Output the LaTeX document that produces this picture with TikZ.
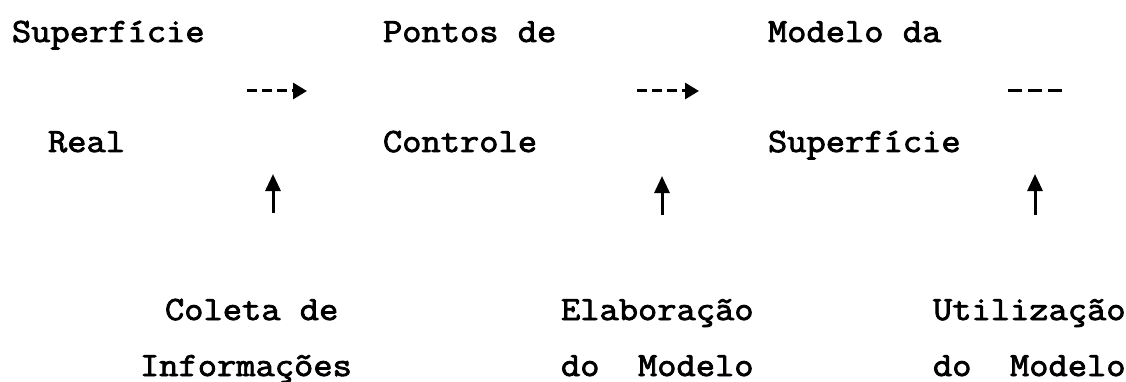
\documentclass[tikz,border=0pt]{standalone}
\usepackage{fontspec}
\newfontfamily\typew{Latin Modern Mono}[FakeStretch=1.1,FakeBold=2.4]
\usetikzlibrary{arrows.meta}
\tikzset{
  lbl/.style={anchor=base west, inner sep=0pt, outer sep=0pt,
    font=\fontsize{34}{40}\typew},
  flow/.style={line width=3pt, dash pattern=on 10pt off 5pt,
    -{Triangle[length=14pt,width=16pt]}},
  flowend/.style={line width=3pt, dash pattern=on 14pt off 6pt},
  upar/.style={line width=3pt, -{Triangle[length=17pt,width=15pt]}}
}
\begin{document}
\begin{tikzpicture}[x=1pt,y=-1pt]
\useasboundingbox (0,0) rectangle (1126,382);
% row 1
\node[lbl] (s1) at (12,42) {Superfície};
\node[lbl] (p1) at (383,42) {Pontos de};
\node[lbl] (m1) at (768,42) {Modelo da};
% row 2
\node[lbl] (s2) at (48,152) {Real};
\node[lbl] (p2) at (383,152) {Controle};
\node[lbl] (m2) at (768,152) {Superfície};
% bottom labels
\node[lbl] (c1) at (165,320) {Coleta de};
\node[lbl] (c2) at (140,376) {Informações};
\node[lbl] (e1) at (561,320) {Elaboração};
\node[lbl] (e2) at (561,376) {do\ \ Modelo};
\node[lbl] (u1) at (933,320) {Utilização};
\node[lbl] (u2) at (933,376) {do\ \ Modelo};
% arrow coordinates
\coordinate (a1s) at (247,91);  \coordinate (a1e) at (307,91);
\coordinate (a2s) at (637,91);  \coordinate (a2e) at (699,91);
\coordinate (a3s) at (1008,91); \coordinate (a3e) at (1064,91);
\coordinate (b1s) at (273,213); \coordinate (b1e) at (273,174);
\coordinate (b2s) at (662,215); \coordinate (b2e) at (662,176);
\coordinate (b3s) at (1035,215); \coordinate (b3e) at (1035,174);
\draw[flow] (a1s) -- (a1e);
\draw[flow] (a2s) -- (a2e);
\draw[flowend] (a3s) -- (a3e);
\draw[upar] (b1s) -- (b1e);
\draw[upar] (b2s) -- (b2e);
\draw[upar] (b3s) -- (b3e);
\end{tikzpicture}
\end{document}
